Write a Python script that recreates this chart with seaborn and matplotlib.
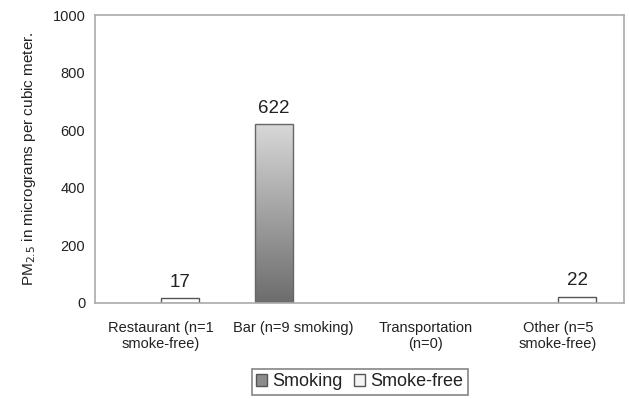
import numpy as np
import pandas as pd
import seaborn as sns
import matplotlib.pyplot as plt
from matplotlib.patches import Rectangle
from matplotlib.colors import LinearSegmentedColormap

categories = ['Restaurant (n=1\nsmoke-free)', 'Bar (n=9 smoking)', 'Transportation\n(n=0)', 'Other (n=5\nsmoke-free)']
smoking = [np.nan, 622, np.nan, np.nan]
smoke_free = [17, np.nan, np.nan, 22]
series = ['Smoking', 'Smoke-free']
yticks = [0, 200, 400, 600, 800, 1000]

df = pd.DataFrame({'Location': categories * 2,
                   'Status': [series[0]] * 4 + [series[1]] * 4,
                   'PM': smoking + smoke_free})

sns.set_style('white')
plt.rcParams['font.family'] = ['Liberation Sans', 'DejaVu Sans']
plt.rcParams['text.color'] = '#222222'

fig = plt.figure(figsize=(6.29, 3.99), dpi=100)
ax = fig.add_axes([0.151, 0.241, 0.841, 0.721])

sns.barplot(data=df, x='Location', y='PM', hue='Status', hue_order=series,
            order=categories, palette=['#8c8c8c', 'white'], width=0.58,
            edgecolor='#555555', linewidth=1, ax=ax, legend=False)

# gradient fill on smoking bars (light at top, dark at bottom)
gcmap = LinearSegmentedColormap.from_list('g', ['#d8d8d8', '#6c6c6c'])
grad = np.linspace(0, 1, 256).reshape(-1, 1)
for bar in ax.containers[0]:
    h = bar.get_height()
    if not np.isfinite(h) or h <= 0:
        continue
    x0 = bar.get_x()
    w = bar.get_width()
    im = ax.imshow(grad, cmap=gcmap, aspect='auto', origin='upper',
                   extent=[x0, x0 + w, 0, h], zorder=bar.get_zorder())
    im.set_clip_path(bar)
    bar.set_facecolor('none')
    bar.set_edgecolor('#666666')
    bar.set_zorder(bar.get_zorder() + 0.1)

# value labels
for cont in ax.containers:
    for bar in cont:
        h = bar.get_height()
        if np.isfinite(h) and h > 0:
            ax.text(bar.get_x() + bar.get_width() / 2, h + 25, f'{h:.0f}',
                    ha='center', va='bottom', fontsize=13.5, color='#222222')

ax.set_xlim(-0.5, 3.5)
ax.set_ylim(0, 1000)
ax.set_yticks(yticks)
ax.set_aspect('auto')
ax.tick_params(axis='y', labelsize=10.5, length=4, color='#999999', pad=3, labelcolor='#222222')
ax.tick_params(axis='x', which='major', length=0, labelsize=10.5, pad=13, labelcolor='#222222')
ax.set_xticks([-0.5, 0.5, 1.5, 2.5, 3.5], minor=True)
ax.tick_params(axis='x', which='minor', length=5, color='#999999')
for s in ax.spines.values():
    s.set_color('#aaaaaa')
    s.set_linewidth(1.2)

ax.set_xlabel('')
ax.set_ylabel('PM$_{2.5}$ in micrograms per cubic meter.', fontsize=11, labelpad=10, color='#222222')

handles = [Rectangle((0, 0), 1, 1, facecolor='#8c8c8c', edgecolor='#555555'),
           Rectangle((0, 0), 1, 1, facecolor='#f4f4f4', edgecolor='#555555')]
leg = fig.legend(handles, series, loc='lower center', bbox_to_anchor=(0.572, -0.012),
                 ncol=2, frameon=True, fancybox=False, fontsize=13,
                 handlelength=0.6, handleheight=0.6, handletextpad=0.3,
                 columnspacing=0.6, borderpad=0.25)
leg.get_frame().set_edgecolor('#666666')
leg.get_frame().set_linewidth(1.2)

fig.savefig('out.png', dpi=100)
